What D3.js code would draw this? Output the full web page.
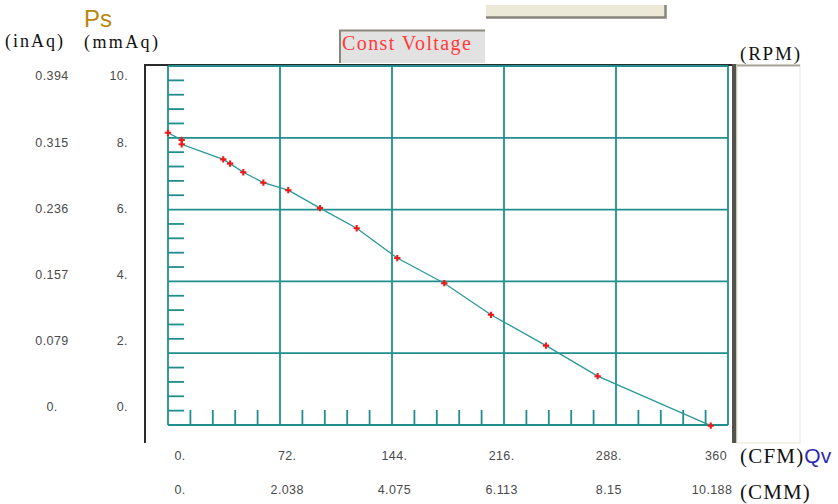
<!DOCTYPE html>
<html>
<head>
<meta charset="utf-8">
<script src="https://cdn.jsdelivr.net/npm/d3@7"></script>
<style>
  body { margin: 0; background: #fff; }
  svg { display: block; }
</style>
</head>
<body>
<div id="chart"></div>
<script>
// Fan curve data
var cfm = [0, 8.8, 8.8, 35.5, 39.9, 48.4, 61.3, 77.3, 97.7, 121.3, 147.4, 177.6, 207.6, 243.0, 276.2, 348.9];
var ps  = [8.14, 7.94, 7.82, 7.40, 7.28, 7.04, 6.75, 6.54, 6.04, 5.48, 4.65, 3.95, 3.07, 2.21, 1.36, -0.02];

// Tick values / labels
var cfmTicks  = [0, 72, 144, 216, 288, 360];
var cfmLabels = ["0.", "72.", "144.", "216.", "288.", "360"];
var cmmLabels = ["0.", "2.038", "4.075", "6.113", "8.15", "10.188"];
var mmTicks   = [0, 2, 4, 6, 8, 10];
var mmLabels  = ["0.", "2.", "4.", "6.", "8.", "10."];
var inLabels  = ["0.", "0.079", "0.157", "0.236", "0.315", "0.394"];

var svgWidth = 838, svgHeight = 504;
var teal = "#218e8e";

var svg = d3.select("#chart").append("svg")
  .attr("width", svgWidth)
  .attr("height", svgHeight);

// scales
var x = d3.scaleLinear().domain([0, 360]).range([168, 728]);
var y = d3.scaleLinear().domain([0, 10]).range([425, 66]);
// the old chart puts its labels on a slightly different spacing
var xLab = d3.scaleLinear().domain([0, 360]).range([180, 716]);
var yLab = d3.scaleLinear().domain([0, 10]).range([407, 76]);

var serif = "'Liberation Serif', 'DejaVu Serif', serif";
var tickFont = "'Liberation Sans', Arial, sans-serif";

// top buttons
svg.append("rect").attr("x", 486).attr("y", 5).attr("width", 180).attr("height", 13)
  .attr("fill", "#ece9d8");
svg.append("path").attr("d", "M486,17.5 H665.5 V5")
  .attr("fill", "none").attr("stroke", "#87847a").attr("stroke-width", 2.5);

svg.append("rect").attr("x", 339).attr("y", 30).attr("width", 146).attr("height", 33)
  .attr("fill", "#e2e2e2");
svg.append("path").attr("d", "M340,63 V30.5 H485")
  .attr("fill", "none").attr("stroke", "#8a8778").attr("stroke-width", 2);
svg.append("text").attr("x", 342).attr("y", 50)
  .style("font-family", serif)
  .style("font-size", "20px")
  .style("letter-spacing", "1.4px")
  .attr("fill", "#ff3b3b")
  .text("Const Voltage");

// outer frame
svg.append("path").attr("d", "M145,443 V65 H733")
  .attr("fill", "none").attr("stroke", "#2b2b2b").attr("stroke-width", 2);

// right RPM panel
svg.append("rect").attr("x", 732).attr("y", 64).attr("width", 5).attr("height", 379)
  .attr("fill", "#55544c");
svg.append("rect").attr("x", 737).attr("y", 65).attr("width", 63).attr("height", 378)
  .attr("fill", "#fff").attr("stroke", "#f0ede2").attr("stroke-width", 1.5);
svg.append("line").attr("x1", 737).attr("x2", 800).attr("y1", 65.5).attr("y2", 65.5)
  .attr("stroke", "#aaa697").attr("stroke-width", 2);

// grid
var grid = svg.append("g").attr("stroke", teal).attr("stroke-width", 1.8).attr("fill", "none");
grid.selectAll(".vg").data(cfmTicks).enter().append("line")
  .attr("x1", d => x(d)).attr("x2", d => x(d))
  .attr("y1", y(10)).attr("y2", y(0));
grid.selectAll(".hg").data(mmTicks).enter().append("line")
  .attr("x1", x(0)).attr("x2", x(360))
  .attr("y1", d => y(d)).attr("y2", d => y(d));

// minor ticks
var xMinor = d3.range(0, 360.01, 14.4).filter(d => Math.abs(d / 72 - Math.round(d / 72)) > 0.01);
var yMinor = d3.range(0, 10.01, 0.4).filter(d => Math.abs(d / 2 - Math.round(d / 2)) > 0.01);
grid.selectAll(".xm").data(xMinor).enter().append("line")
  .attr("x1", d => x(d)).attr("x2", d => x(d))
  .attr("y1", y(0)).attr("y2", y(0) - 15);
grid.selectAll(".ym").data(yMinor).enter().append("line")
  .attr("x1", x(0)).attr("x2", x(0) + 16)
  .attr("y1", d => y(d)).attr("y2", d => y(d));

// curve
var pts = cfm.map((c, i) => ({ q: c, p: ps[i] }));
svg.append("path").datum(pts)
  .attr("fill", "none")
  .attr("stroke", "#2a9898")
  .attr("stroke-width", 1.3)
  .attr("d", d3.line().x(d => x(d.q)).y(d => y(d.p)));

svg.selectAll(".pt").data(pts).enter().append("path")
  .attr("transform", d => `translate(${x(d.q)},${y(d.p)})`)
  .attr("d", d3.symbol().type(d3.symbolCross).size(22))
  .attr("fill", "#f01818");

// tick labels
function tickText(sel) {
  sel.style("font-family", tickFont).style("font-size", "12.5px")
    .style("letter-spacing", "0.4px").attr("fill", "#4a4a4a");
}
svg.selectAll(".mm").data(mmTicks).enter().append("text")
  .attr("x", 128).attr("y", d => yLab(d)).attr("dy", "0.35em")
  .attr("text-anchor", "end").call(tickText)
  .text((d, i) => mmLabels[i]);
svg.selectAll(".in").data(mmTicks).enter().append("text")
  .attr("x", 52).attr("y", d => yLab(d)).attr("dy", "0.35em")
  .attr("text-anchor", "middle").call(tickText)
  .text((d, i) => inLabels[i]);
svg.selectAll(".cfm").data(cfmTicks).enter().append("text")
  .attr("x", d => xLab(d)).attr("y", 456).attr("dy", "0.35em")
  .attr("text-anchor", "middle").call(tickText)
  .text((d, i) => cfmLabels[i]);
svg.selectAll(".cmm").data(cfmTicks).enter().append("text")
  .attr("x", d => xLab(d) - (d === 360 ? 4 : 0)).attr("y", 490).attr("dy", "0.35em")
  .attr("text-anchor", "middle").call(tickText)
  .text((d, i) => cmmLabels[i]);

// unit labels
svg.append("text").attr("x", 84).attr("y", 27)
  .style("font-family", tickFont).style("font-size", "24px").attr("fill", "#b8860b")
  .text("Ps");
svg.append("text").attr("x", 5).attr("y", 47)
  .style("font-family", serif).style("font-size", "18px").style("letter-spacing", "2px")
  .attr("fill", "#111")
  .text("(inAq)");
svg.append("text").attr("x", 84).attr("y", 48)
  .style("font-family", serif).style("font-size", "18px").style("letter-spacing", "2.4px")
  .attr("fill", "#111")
  .text("(mmAq)");
svg.append("text").attr("x", 740).attr("y", 60)
  .style("font-family", serif).style("font-size", "19px").style("letter-spacing", "1.8px")
  .attr("fill", "#111")
  .text("(RPM)");

var cfmUnit = svg.append("text").attr("x", 740).attr("y", 463)
  .style("font-family", serif).style("font-size", "21px").attr("fill", "#111");
cfmUnit.append("tspan").style("letter-spacing", "1.2px").text("(CFM)");
cfmUnit.append("tspan").style("font-family", tickFont).attr("fill", "#2a2ab0").text("Qv");

svg.append("text").attr("x", 740).attr("y", 499)
  .style("font-family", serif).style("font-size", "21px").style("letter-spacing", "1.1px")
  .attr("fill", "#111")
  .text("(CMM)");
</script>
</body>
</html>
